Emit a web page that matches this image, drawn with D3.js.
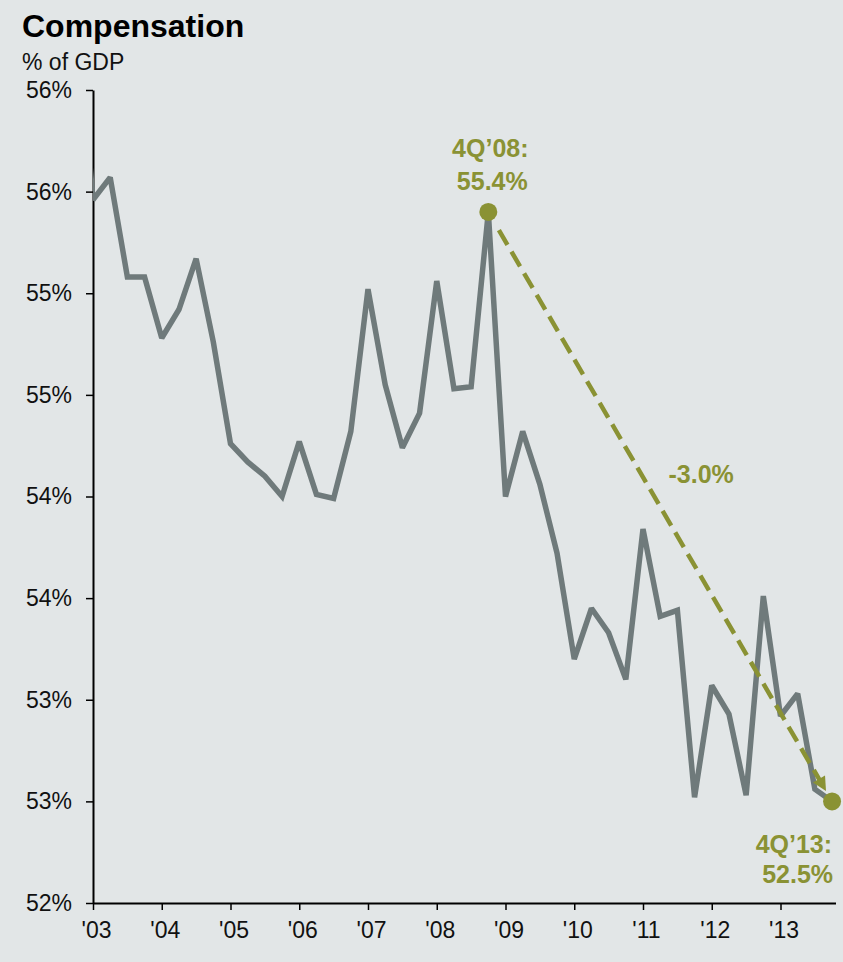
<!DOCTYPE html>
<html>
<head>
<meta charset="utf-8">
<script src="https://cdn.jsdelivr.net/npm/d3@7"></script>
<style>
  html, body { margin: 0; padding: 0; background: #e2e6e7; }
  svg { display: block; font-family: "Liberation Sans", Arial, Helvetica, sans-serif; }
</style>
</head>
<body>
<svg id="chart" width="843" height="962"></svg>
<script>
// Quarterly compensation share of GDP (%), 4Q02 through 4Q13
const quarters = [
  "4Q02",
  "1Q03","2Q03","3Q03","4Q03","1Q04","2Q04","3Q04","4Q04",
  "1Q05","2Q05","3Q05","4Q05","1Q06","2Q06","3Q06","4Q06",
  "1Q07","2Q07","3Q07","4Q07","1Q08","2Q08","3Q08","4Q08",
  "1Q09","2Q09","3Q09","4Q09","1Q10","2Q10","3Q10","4Q10",
  "1Q11","2Q11","3Q11","4Q11","1Q12","2Q12","3Q12","4Q12",
  "1Q13","2Q13","3Q13","4Q13"
];
const compensation = [
  56.45,
  55.46, 55.57, 55.08, 55.08, 54.78, 54.92, 55.17, 54.76,
  54.26, 54.17, 54.10, 54.00, 54.27, 54.01, 53.99, 54.32,
  55.02, 54.55, 54.24, 54.41, 55.06, 54.53, 54.54, 55.40,
  54.00, 54.32, 54.06, 53.72, 53.20, 53.45, 53.33, 53.10,
  53.84, 53.41, 53.44, 52.52, 53.07, 52.93, 52.53, 53.51,
  52.92, 53.03, 52.56, 52.50
];

const yTickValues = [52, 52.5, 53, 53.5, 54, 54.5, 55, 55.5, 56];
const yTickLabels = ["52%", "53%", "53%", "54%", "54%", "55%", "55%", "56%", "56%"];
const xTickValues = [2003, 2004, 2005, 2006, 2007, 2008, 2009, 2010, 2011, 2012, 2013];
const xTickLabels = ["'03", "'04", "'05", "'06", "'07", "'08", "'09", "'10", "'11", "'12", "'13"];

// Highlighted start/end of the decline
const highlightQuarters = ["4Q08", "4Q13"];
const highlightNames = ["4Q\u201908:", "4Q\u201913:"];
const highlightValues = [55.4, 52.5];
const changeLabel = "-3.0%";

const olive = "#8a9234";
const lineGray = "#6f7a7b";

// quarter string -> fractional year at quarter start
function quarterPos(q) {
  const qi = +q[0];
  const yr = 2000 + +q.slice(2);
  return yr + (qi - 1) / 4;
}

const svg = d3.select("#chart");

svg.append("rect").attr("width", 843).attr("height", 962).attr("fill", "#e2e6e7");

const x = d3.scaleLinear().domain([2003, 2013.8]).range([93, 835.5]);
const y = d3.scaleLinear().domain([52, 56]).range([903, 90]);

// Title block
svg.append("text").attr("x", 22).attr("y", 37)
  .attr("font-size", 32).attr("font-weight", "bold").attr("fill", "#000")
  .text("Compensation");
svg.append("text").attr("x", 22).attr("y", 70)
  .attr("font-size", 23).attr("fill", "#111")
  .text("% of GDP");

// Y axis
const yAxis = d3.axisLeft(y)
  .tickValues(yTickValues)
  .tickFormat((d, i) => yTickLabels[i])
  .tickSize(7)
  .tickPadding(14)
  .tickSizeOuter(0);
const gy = svg.append("g").attr("transform", `translate(${x(2003)},0)`).call(yAxis);
gy.select(".domain").attr("stroke", "#000").attr("stroke-width", 2);
gy.selectAll(".tick line").attr("stroke", "#000").attr("stroke-width", 1.5);
gy.selectAll(".tick text").attr("font-size", 23).attr("fill", "#111")
  .attr("font-family", "\"Liberation Sans\", Arial, sans-serif");

// X axis
const xAxis = d3.axisBottom(x)
  .tickValues(xTickValues)
  .tickFormat((d, i) => xTickLabels[i])
  .tickSize(7)
  .tickPadding(12)
  .tickSizeOuter(0);
const gx = svg.append("g").attr("transform", `translate(0,${y(52)})`).call(xAxis);
gx.select(".domain").attr("stroke", "#000").attr("stroke-width", 2);
gx.selectAll(".tick line").attr("stroke", "#000").attr("stroke-width", 1.5);
gx.selectAll(".tick text").attr("font-size", 23).attr("fill", "#111")
  .attr("dx", 3)
  .attr("font-family", "\"Liberation Sans\", Arial, sans-serif");

// Clip to plot area so the series begins at the axis
svg.append("clipPath").attr("id", "plot-clip")
  .append("rect").attr("x", x(2003)).attr("y", 0).attr("width", 843 - x(2003)).attr("height", 962);

const series = quarters.map((q, i) => ({ t: quarterPos(q), v: compensation[i] }));
const line = d3.line().x(d => x(d.t)).y(d => y(d.v));

svg.append("path")
  .datum(series)
  .attr("clip-path", "url(#plot-clip)")
  .attr("fill", "none")
  .attr("stroke", lineGray)
  .attr("stroke-width", 5.5)
  .attr("stroke-linejoin", "miter")
  .attr("stroke-miterlimit", 2.2)
  .attr("d", line);

// Dashed trend arrow between the two highlighted quarters
const pts = highlightQuarters.map((q, i) => [x(quarterPos(q)), y(highlightValues[i])]);
const dx = pts[1][0] - pts[0][0], dy = pts[1][1] - pts[0][1];
const len = Math.hypot(dx, dy);
const ux = dx / len, uy = dy / len;
const start = [pts[0][0] + ux * 21, pts[0][1] + uy * 21];
const tip = [pts[1][0] - ux * 12, pts[1][1] - uy * 12];
const headLen = 14, headHalf = 7;
const base = [tip[0] - ux * headLen, tip[1] - uy * headLen];

svg.append("line")
  .attr("x1", start[0]).attr("y1", start[1])
  .attr("x2", base[0] + ux * 2).attr("y2", base[1] + uy * 2)
  .attr("stroke", olive).attr("stroke-width", 4.5)
  .attr("stroke-dasharray", "17 8");

svg.append("path")
  .attr("fill", olive)
  .attr("d", `M${tip[0]},${tip[1]}L${base[0] - uy * headHalf},${base[1] + ux * headHalf}L${base[0] + uy * headHalf},${base[1] - ux * headHalf}Z`);

// Dots
svg.selectAll("circle.hl")
  .data(pts)
  .join("circle")
  .attr("class", "hl")
  .attr("cx", d => d[0]).attr("cy", d => d[1])
  .attr("r", 9).attr("fill", olive);

// Annotations
const fmt = v => v.toFixed(1) + "%";
const ann = svg.append("g").attr("fill", olive).attr("font-weight", "bold").attr("font-size", 25);

ann.append("text").attr("x", pts[0][0] + 2).attr("y", pts[0][1] - 55)
  .attr("text-anchor", "middle").text(highlightNames[0]);
ann.append("text").attr("x", pts[0][0] + 4).attr("y", pts[0][1] - 22)
  .attr("text-anchor", "middle").text(fmt(highlightValues[0]));

ann.append("text").attr("x", pts[1][0]).attr("y", pts[1][1] + 52)
  .attr("text-anchor", "end").text(highlightNames[1]);
ann.append("text").attr("x", pts[1][0] + 1).attr("y", pts[1][1] + 82)
  .attr("text-anchor", "end").text(fmt(highlightValues[1]));

const mid = [(pts[0][0] + pts[1][0]) / 2, (pts[0][1] + pts[1][1]) / 2];
ann.append("text").attr("x", mid[0] + 41).attr("y", mid[1] - 24)
  .attr("text-anchor", "middle").text(changeLabel);
</script>
</body>
</html>
